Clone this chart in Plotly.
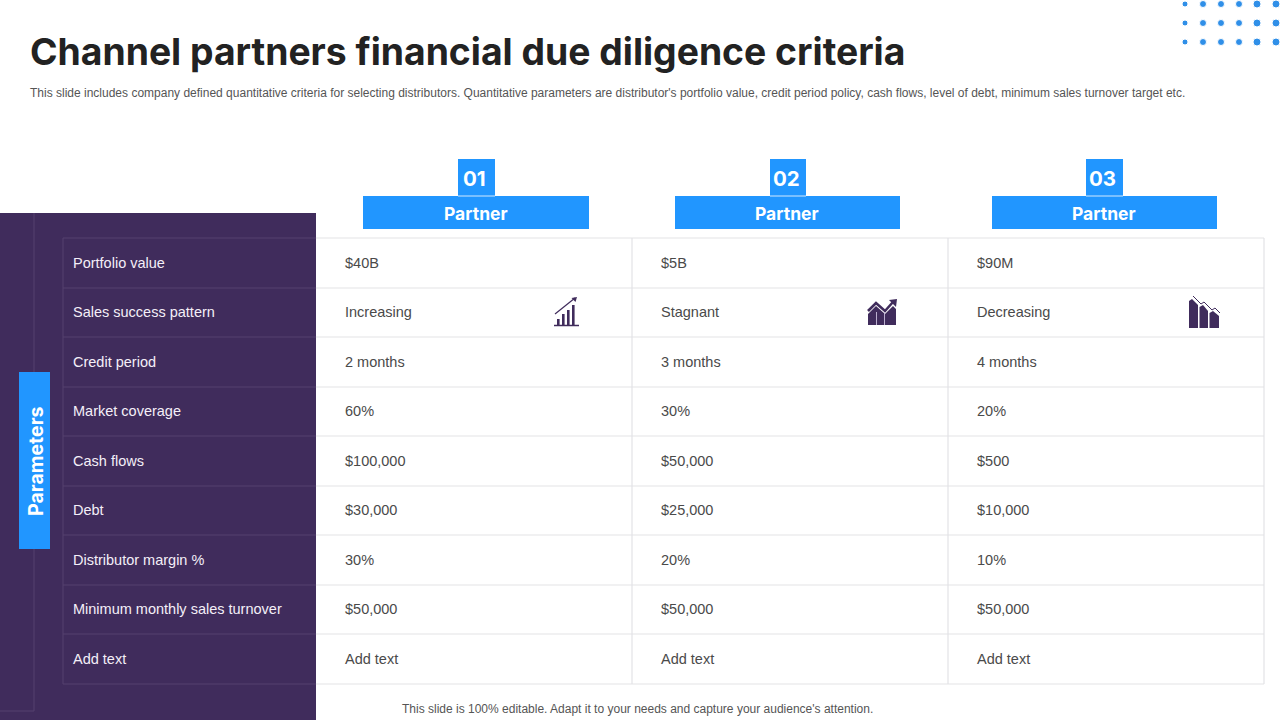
import plotly.graph_objects as go

title = "Channel partners financial due diligence criteria"
subtitle = ("This slide includes company defined quantitative criteria for selecting distributors. "
            "Quantitative parameters are distributor's portfolio value, credit period policy, cash flows, "
            "level of debt, minimum sales turnover target etc.")
footer = "This slide is 100% editable. Adapt it to your needs and capture your audience's attention."

parameters = ["Portfolio value", "Sales success pattern", "Credit period", "Market coverage",
              "Cash flows", "Debt", "Distributor margin %", "Minimum monthly sales turnover", "Add text"]
partner_numbers = ["01", "02", "03"]
partner_1 = ["$40B", "Increasing", "2 months", "60%", "$100,000", "$30,000", "30%", "$50,000", "Add text"]
partner_2 = ["$5B", "Stagnant", "3 months", "30%", "$50,000", "$25,000", "20%", "$50,000", "Add text"]
partner_3 = ["$90M", "Decreasing", "4 months", "20%", "$500", "$10,000", "10%", "$50,000", "Add text"]

row_lines = [238, 288, 337, 387, 436, 486, 535, 585, 634, 684]
col_lines = [316, 632, 948, 1264]
dot_x = [1185, 1203, 1221, 1239, 1257, 1276]
dot_y = [4, 23, 42]
dot_size = [6, 7, 7, 7, 8, 8]

BLUE = "#2196FF"
PURPLE = "#402C5C"
PANEL_LINE = "#54406F"
GRID = "#E3E3E6"
BODY = "Liberation Sans"
HEAD = "Inter"

fig = go.Figure()
shapes = []
notes = []


def rect(x0, y0, x1, y1, color, layer="below"):
    shapes.append(dict(type="rect", x0=x0, y0=y0, x1=x1, y1=y1, fillcolor=color, line_width=0, layer=layer))


def line(x0, y0, x1, y1, color, width=1, layer="below"):
    shapes.append(dict(type="line", x0=x0, y0=y0, x1=x1, y1=y1, line=dict(color=color, width=width), layer=layer))


def path(d, fill=None, stroke=None, width=1):
    shapes.append(dict(type="path", path=d, fillcolor=fill or "rgba(0,0,0,0)",
                       line=dict(color=stroke or "rgba(0,0,0,0)", width=width), layer="above"))


def text(x, y, s, size, color, anchor="left", family=BODY, weight=400, angle=0):
    notes.append(dict(x=x - 2 if anchor == "left" else x, y=y, text=s, showarrow=False, xanchor=anchor,
                      yanchor="middle", textangle=angle,
                      font=dict(size=size, color=color, family=family, weight=weight)))


# left panel
rect(0, 213, 316, 720, PURPLE)
line(34, 213, 34, 711, PANEL_LINE)
line(0, 711, 34, 711, PANEL_LINE)
line(63, row_lines[0], 63, row_lines[-1], PANEL_LINE)
rect(19, 372, 50, 549, BLUE)
text(36, 461, "Parameters", 19.5, "white", "center", HEAD, 700, -90)

# table grid
for y in row_lines:
    line(63, y, 316, y, PANEL_LINE)
    line(316, y, col_lines[-1], y, GRID, 1.2)
for x in col_lines[1:]:
    line(x, row_lines[0], x, row_lines[-1], GRID, 1.2)

# partner headers
header_boxes = [(363, 589), (675, 900), (992, 1217)]
number_boxes = [(458, 495), (770, 806), (1086, 1123)]
for (x0, x1), (n0, n1), num in zip(header_boxes, number_boxes, partner_numbers):
    rect(x0, 196, x1, 229, BLUE)
    rect(n0, 159, n1, 196, BLUE)
    line(n0, 196, n1, 196, "white", 0.8)
    text((n0 + n1) / 2 - 2, 178, num, 20.5, "white", "center", HEAD, 700)
    text((x0 + x1) / 2 - 0.5, 213, "Partner", 17.5, "white", "center", HEAD, 700)

# row labels and values
for i, label in enumerate(parameters):
    y = (row_lines[i] + row_lines[i + 1]) / 2 - 0.5
    text(73, y, label, 14.5, "#F4EFF8")
    for x, col in zip(col_lines, [partner_1, partner_2, partner_3]):
        text(x + 29, y, col[i], 14.5, "#4A4A4A")

# icons
# increasing
line(554, 325.5, 579, 325.5, PURPLE, 1.5, "above")
for bx, top in [(557, 319), (562, 314), (567, 310), (572, 305)]:
    rect(bx, top, bx + 2.6, 325, PURPLE, "above")
path("M 555 314 L 575 298", stroke=PURPLE, width=1.3)
path("M 577 297 L 571.5 298 L 575.5 302 Z", fill=PURPLE)

# stagnant
path("M 868 325 L 868 314 L 876 306 L 885 314 L 893 306 L 896 309 L 896 325 Z", fill=PURPLE)
path("M 868 311 L 876 303 L 885 311 L 893 302", stroke=PURPLE, width=2.6)
path("M 897 299 L 889 300 L 896 307 Z", fill=PURPLE)
for wx in [876.5, 884.5]:
    path(f"M {wx} 312 L {wx} 325", stroke="#C9BEDD", width=0.9)

# decreasing
path("M 1189 328 L 1189 301 L 1192 299 L 1198 305 L 1198 328 Z", fill=PURPLE)
path("M 1199.5 328 L 1199.5 307 L 1203 305 L 1208 311 L 1208 328 Z", fill=PURPLE)
path("M 1209.5 328 L 1209.5 313 L 1213 311 L 1219 316 L 1219 328 Z", fill=PURPLE)
path("M 1193 296 L 1201 304 L 1204 302 L 1212 310 L 1215 308 L 1220 313", stroke=PURPLE, width=1)

# titles
text(30, 51.5, title, 37.3, "#222222", family=HEAD, weight=700)
text(30, 93, subtitle, 12, "#555555")
text(402, 709, footer, 12, "#555555")

# corner dots
fig.add_trace(go.Scatter(
    x=[x for y in dot_y for x in dot_x],
    y=[y for y in dot_y for x in dot_x],
    mode="markers",
    marker=dict(size=[s for y in dot_y for s in dot_size], color="#2F8FE8", opacity=1),
    hoverinfo="skip",
    showlegend=False,
))

fig.update_layout(
    width=1280, height=720,
    margin=dict(l=0, r=0, t=0, b=0),
    paper_bgcolor="white", plot_bgcolor="white",
    shapes=shapes, annotations=notes,
    xaxis=dict(range=[0, 1280], visible=False, fixedrange=True),
    yaxis=dict(range=[720, 0], visible=False, fixedrange=True),
)
fig.write_html("out.html", config=dict(displayModeBar=False),
               post_script="document.body.style.margin='0';")
